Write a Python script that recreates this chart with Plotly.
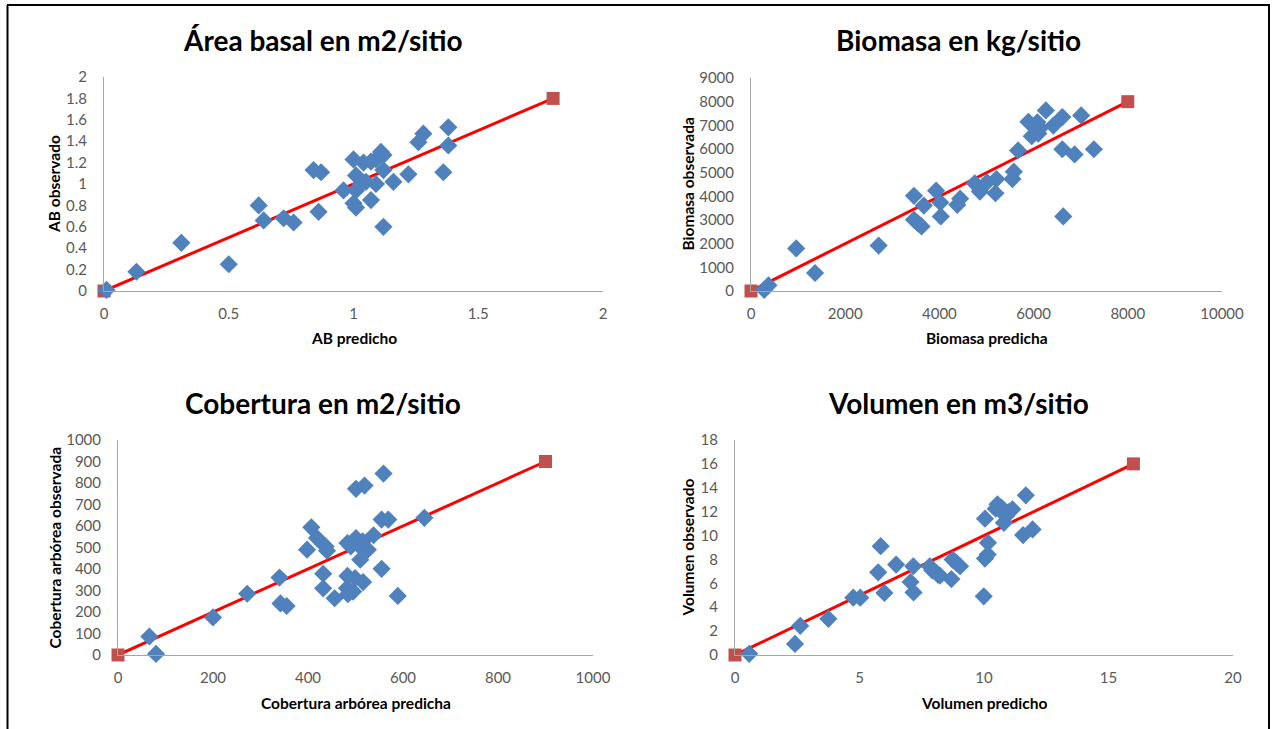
import plotly.graph_objects as go

# ---------------- Data ----------------
ab_pred = [0.01, 0.13, 0.31, 0.50, 0.62, 0.64, 0.72, 0.76, 0.84, 0.87, 0.86, 0.96, 1.00, 1.01,
           1.00, 1.01, 1.01, 1.03, 1.04, 1.07, 1.09, 1.11, 1.12, 1.09, 1.07, 1.12, 1.12, 1.16,
           1.22, 1.26, 1.28, 1.38, 1.38, 1.36, 1.05]
ab_obs = [0.01, 0.18, 0.45, 0.25, 0.80, 0.66, 0.68, 0.64, 1.13, 1.11, 0.74, 0.94, 1.23, 1.08,
          0.82, 0.78, 0.94, 1.00, 1.20, 1.21, 1.23, 1.30, 1.27, 1.00, 0.85, 1.13, 0.60, 1.02,
          1.09, 1.39, 1.47, 1.53, 1.36, 1.11, 1.02]

bio_pred = [280, 370, 960, 1360, 2710, 3460, 3460, 3540, 3620, 3670, 3930, 4020, 4030, 4380,
            4440, 4750, 4860, 5010, 5210, 5190, 5550, 5580, 5670, 5890, 5960, 6080, 6100, 6140,
            6260, 6420, 6610, 6610, 6630, 6870, 7010, 7280, 6050]
bio_obs = [50, 240, 1800, 760, 1920, 4020, 3010, 2870, 2730, 3610, 4240, 3740, 3150, 3640,
           3900, 4550, 4200, 4590, 4730, 4130, 4730, 5040, 5940, 7150, 6540, 7130, 6650, 6890,
           7630, 6990, 7350, 5990, 3150, 5770, 7420, 5990, 7000]

cob_pred = [66, 80, 200, 272, 340, 342, 355, 398, 407, 419, 437, 440, 432, 432, 456, 483, 483,
            482, 484, 495, 499, 501, 519, 501, 507, 510, 515, 526, 516, 538, 555, 555, 569, 559,
            589, 645, 490]
cob_obs = [86, 5, 175, 285, 360, 240, 228, 490, 594, 544, 505, 485, 378, 310, 264, 521, 368,
           311, 283, 295, 358, 773, 788, 544, 510, 443, 529, 490, 339, 557, 401, 630, 630, 844,
           275, 638, 505]

vol_pred = [0.57, 2.41, 2.62, 3.75, 4.75, 5.03, 5.75, 5.85, 6.00, 6.47, 7.05, 7.16, 7.17, 7.82,
            7.92, 8.15, 8.23, 8.69, 8.74, 8.89, 9.04, 9.99, 10.04, 10.04, 10.15, 10.16, 10.47,
            10.54, 10.70, 10.80, 10.88, 10.99, 11.14, 11.57, 11.68, 11.95]
vol_obs = [0.10, 0.93, 2.44, 3.03, 4.80, 4.80, 6.92, 9.11, 5.20, 7.57, 6.11, 7.43, 5.24, 7.43,
           7.09, 6.73, 6.64, 6.36, 7.99, 7.71, 7.43, 4.91, 11.41, 8.07, 8.41, 9.39, 12.25,
           12.62, 12.34, 11.07, 11.63, 11.97, 12.20, 10.04, 13.37, 10.51]

ref_ab = [0, 1.8]
ref_bio = [0, 8000]
ref_cob = [0, 900]
ref_vol = [0, 16]

titles = ["Área basal en m2/sitio", "Biomasa en kg/sitio",
          "Cobertura en m2/sitio", "Volumen en m3/sitio"]
xtitles = ["AB predicho", "Biomasa predicha", "Cobertura arbórea predicha", "Volumen predicho"]
ytitles = ["AB observado", "Biomasa observada", "Cobertura arbórea observada", "Volumen observado"]
xranges = [[0, 2], [0, 10000], [0, 1000], [0, 20]]
yranges = [[0, 2], [0, 9000], [0, 1000], [0, 18]]
xdtick = [0.5, 2000, 200, 5]
ydtick = [0.2, 1000, 100, 2]
xfmt = ["", "d", "d", "d"]
yfmt = ["", "d", "d", "d"]

# ---------------- Layout geometry (pixels) ----------------
W, H = 1275, 729
# (x0, x1, ybottom, ytop) of plot areas in pixels
boxes = [(104, 603, 291, 77), (751, 1222, 291, 78), (118, 593, 655, 440), (735, 1233, 655, 440)]

FONT = "Lato, Carlito, Calibri, sans-serif"
BLUE = "#4F81BD"
RED_M = "#C0504D"
RED_L = "#FF0000"

fig = go.Figure()
panels = [(ab_pred, ab_obs, ref_ab), (bio_pred, bio_obs, ref_bio),
          (cob_pred, cob_obs, ref_cob), (vol_pred, vol_obs, ref_vol)]

annotations = []
for i, (px, py, ref) in enumerate(panels):
    xa = "x" if i == 0 else f"x{i+1}"
    ya = "y" if i == 0 else f"y{i+1}"
    fig.add_trace(go.Scatter(x=ref, y=ref, mode="lines+markers", xaxis=xa, yaxis=ya,
                             line=dict(color=RED_L, width=3),
                             marker=dict(symbol="square", size=13, color=RED_M),
                             cliponaxis=False, showlegend=False, hoverinfo="x+y"))
    fig.add_trace(go.Scatter(x=px, y=py, mode="markers", xaxis=xa, yaxis=ya,
                             marker=dict(symbol="diamond", size=14, color=BLUE,
                                         line=dict(width=0)),
                             cliponaxis=False, showlegend=False, hoverinfo="x+y"))
    x0, x1, yb, yt = boxes[i]
    xkey = "xaxis" if i == 0 else f"xaxis{i+1}"
    ykey = "yaxis" if i == 0 else f"yaxis{i+1}"
    fig.update_layout(**{
        xkey: dict(domain=[x0 / W, x1 / W], range=xranges[i], dtick=xdtick[i], tick0=0,
                   tickformat=xfmt[i], automargin=False,
                   anchor=ya, showgrid=False, zeroline=False, showline=True,
                   linecolor="#A6A6A6", linewidth=1, ticks="", ticklabelstandoff=9,
                   tickfont=dict(family=FONT, size=15, color="#595959"), fixedrange=True),
        ykey: dict(domain=[1 - yb / H, 1 - yt / H], range=yranges[i], dtick=ydtick[i], tick0=0,
                   tickformat=yfmt[i], automargin=False,
                   anchor=xa, showgrid=False, zeroline=False, showline=True,
                   linecolor="#A6A6A6", linewidth=1, ticks="", ticklabelstandoff=13,
                   tickfont=dict(family=FONT, size=15, color="#595959"), fixedrange=True),
    })
    cx = (x0 + x1) / 2
    cy = (yb + yt) / 2
    tcx = 323 if i % 2 == 0 else 958
    tcy = 40 if i < 2 else 403
    annotations.append(dict(text=f"<b>{titles[i]}</b>", x=tcx / W, y=1 - tcy / H,
                            xref="paper", yref="paper", showarrow=False,
                            xanchor="center", yanchor="middle",
                            font=dict(family=FONT, size=28, color="#000000")))
    xt_y = 338 if i < 2 else 703
    annotations.append(dict(text=f"<b>{xtitles[i]}</b>", x=cx / W, y=1 - xt_y / H,
                            xref="paper", yref="paper", showarrow=False,
                            xanchor="center", yanchor="middle",
                            font=dict(family=FONT, size=15.5, color="#000000")))
    yt_x = 54 if i % 2 == 0 else 687
    annotations.append(dict(text=f"<b>{ytitles[i]}</b>", x=yt_x / W, y=1 - cy / H,
                            xref="paper", yref="paper", showarrow=False, textangle=-90,
                            xanchor="center", yanchor="middle",
                            font=dict(family=FONT, size=15.5, color="#000000")))

shapes = [
    dict(type="line", xref="paper", yref="paper", x0=7 / W, x1=1270 / W,
         y0=1 - 5 / H, y1=1 - 5 / H, line=dict(color="#000000", width=2)),
    dict(type="line", xref="paper", yref="paper", x0=7.5 / W, x1=7.5 / W,
         y0=0, y1=1 - 5 / H, line=dict(color="#000000", width=2)),
    dict(type="line", xref="paper", yref="paper", x0=1269 / W, x1=1269 / W,
         y0=0, y1=1 - 5 / H, line=dict(color="#000000", width=2)),
]

fig.update_layout(template="none", width=W, height=H, margin=dict(l=0, r=0, t=0, b=0, pad=0),
                  paper_bgcolor="white", plot_bgcolor="white",
                  annotations=annotations, shapes=shapes, showlegend=False)

fig.write_html("out.html", config={"displayModeBar": False},
               post_script="document.body.style.margin='0';document.body.style.overflow='hidden';")
